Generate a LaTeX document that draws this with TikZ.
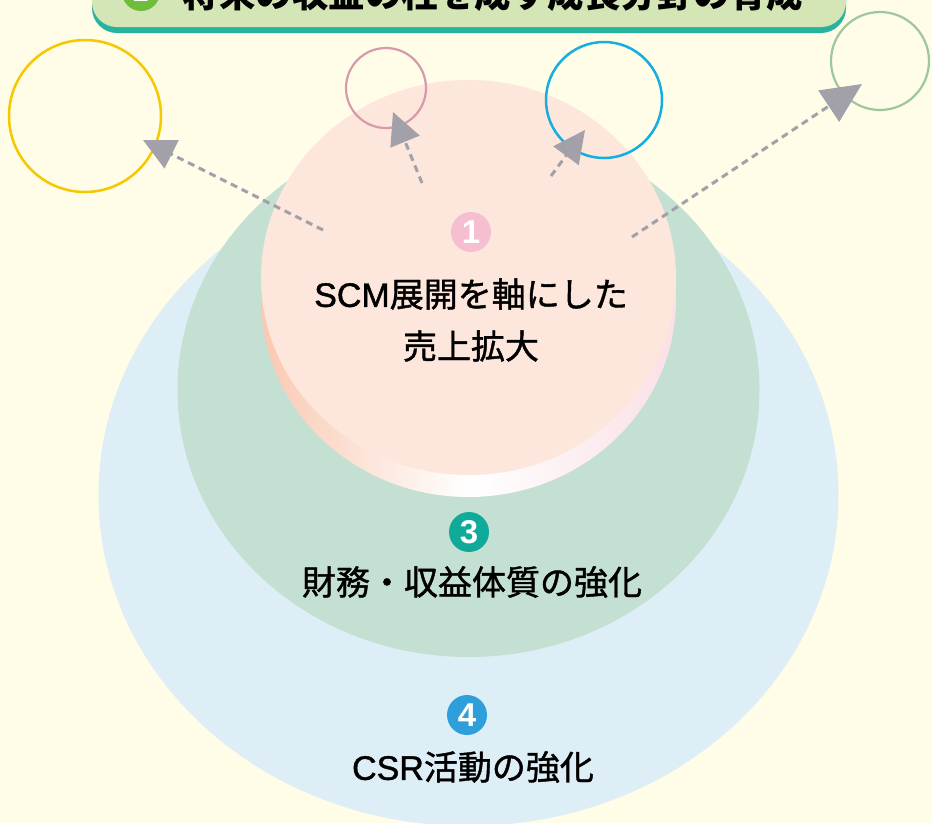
\documentclass[tikz,border=0pt]{standalone}
\usepackage{fontspec}
\setmainfont{Noto Sans CJK JP}
\newfontfamily\lat{Liberation Sans}
\newfontfamily\jpmed[FakeBold=1.2]{Noto Sans CJK JP}
\newfontfamily\latmed[FakeBold=1.2]{Liberation Sans}
\usetikzlibrary{arrows.meta,shapes.geometric}
\definecolor{bg}{HTML}{FFFCE8}
\definecolor{csrfill}{HTML}{DEEEF6}
\definecolor{finfill}{HTML}{C3E0D2}
\definecolor{facefill}{HTML}{FDE6DB}
\definecolor{sideL}{HTML}{F9C9B2}
\definecolor{sideR}{HTML}{FAE0E6}
\definecolor{arrowgray}{HTML}{A2A0A9}
\definecolor{ylw}{HTML}{F5C800}
\definecolor{pinkc}{HTML}{D79AAC}
\definecolor{bluec}{HTML}{14AEE0}
\definecolor{greenc}{HTML}{9DC89B}
\definecolor{badgeA}{HTML}{F6BFD1}
\definecolor{badgeC}{HTML}{10AA9B}
\definecolor{badgeD}{HTML}{2F9FDB}
\definecolor{bannerfill}{HTML}{D4E5B6}
\definecolor{bannershadow}{HTML}{28B3A1}
\definecolor{icongreen}{HTML}{6CBE3B}
\begin{document}
\begin{tikzpicture}[x=1pt,y=-1pt,
  blob/.style={ellipse, inner sep=0pt, draw=none},
  ring/.style={circle, inner sep=0pt, fill=none},
  badge/.style={circle, inner sep=0pt, minimum size=40pt, text=white,
    font=\lat\bfseries\fontsize{33}{33}\selectfont},
  label/.style={inner sep=0pt, font=\jpmed\fontsize{34}{34}\selectfont},
  arr/.style={draw=arrowgray, line width=3pt, dash pattern=on 7pt off 5pt,
    -{Triangle[length=32pt,width=31pt]}}]
\useasboundingbox (0,0) rectangle (932,823);
\clip (0,0) rectangle (932,823);
\fill[bg] (0,0) rectangle (932,823);

% nested areas
\node[blob, fill=csrfill, minimum width=740pt, minimum height=662pt] (csr) at (468.5,495) {};
\node[blob, fill=finfill, minimum width=582pt, minimum height=534pt] (fin) at (468.5,390) {};
\shade[left color=sideL, right color=sideR, middle color=white]
  (468.5,299.5) ellipse [x radius=207.5pt, y radius=197.5pt];
\node[blob, fill=facefill, minimum width=415pt, minimum height=395pt] (scm) at (468.5,277.5) {};

% badges and labels
\node[badge, fill=badgeA] (b1) at (471,232) {1};
\node[label] (t1) at (471,294) {{\latmed SCM}展開を軸にした};
\node[label] (t2) at (471,346) {売上拡大};
\node[badge, fill=badgeC] (b3) at (469,532) {3};
\node[label] (t3) at (472,582) {財務・収益体質の強化};
\node[badge, fill=badgeD] (b4) at (467,715) {4};
\node[label] (t4) at (473,767) {{\latmed CSR}活動の強化};

% outline circles
\node[ring, draw=ylw, line width=2.5pt, minimum size=152pt] (c1) at (85,116) {};
\node[ring, draw=pinkc, line width=2.2pt, minimum size=80pt] (c2) at (386,88) {};
\node[ring, draw=bluec, line width=2.5pt, minimum size=116pt] (c3) at (604,100) {};
\node[ring, draw=greenc, line width=2.2pt, minimum size=98pt] (c4) at (880,61) {};

% arrows
\coordinate (s1) at (323,230); \coordinate (e1) at (143,140);
\coordinate (s2) at (422,183); \coordinate (e2) at (393,112);
\coordinate (s3) at (551,176); \coordinate (e3) at (585,130);
\coordinate (s4) at (632,237); \coordinate (e4) at (862,84);
\draw[arr] (s1) -- (e1);
\draw[arr] (s2) -- (e2);
\draw[arr] (s3) -- (e3);
\draw[arr, -{Triangle[length=40pt,width=37pt]}] (s4) -- (e4);

% banner
\fill[bannershadow, rounded corners=25pt] (92,-40) rectangle (846,33);
\fill[bannerfill, rounded corners=25pt] (92,-40) rectangle (846,27);
\node[circle, inner sep=0pt, minimum size=38pt, fill=icongreen, text=white,
  font=\lat\bfseries\fontsize{28}{28}\selectfont] (icon) at (141,-8) {2};
\node[inner sep=0pt, font=\bfseries\fontsize{36.5}{36.5}\selectfont] (title) at (493,-6)
  {将来の収益の柱を成す成長分野の育成};
\end{tikzpicture}
\end{document}
